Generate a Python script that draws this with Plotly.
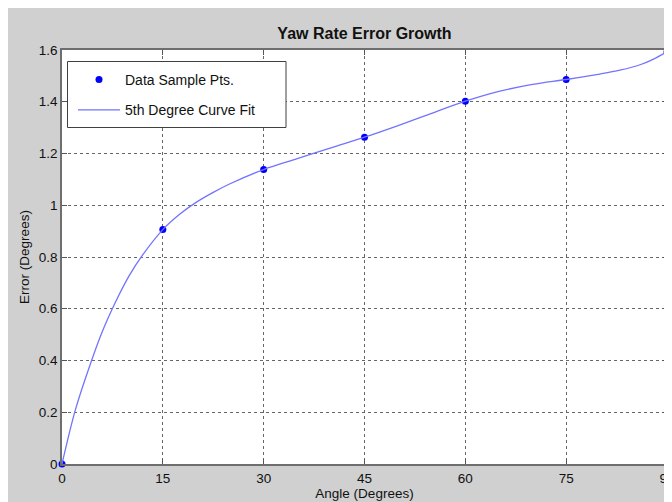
import plotly.graph_objects as go

# Data sample points
angles = [0, 15, 30, 45, 60, 75, 90]
errors = [0.0, 0.906, 1.138, 1.263, 1.402, 1.486, 1.593]

# 5th degree curve fit
fit_angles = [0, 2, 4, 6, 8, 10, 12, 15, 17.5, 20, 22.5, 25, 30, 35, 40, 45,
              50, 55, 60, 65, 70, 75, 80, 83, 86, 88, 90]
fit_errors = [0.0, 0.21, 0.37, 0.512, 0.628, 0.728, 0.808, 0.906, 0.965, 1.012, 1.05, 1.083,
              1.138, 1.18, 1.222, 1.263, 1.308, 1.355, 1.402, 1.44, 1.467, 1.486, 1.507,
              1.522, 1.543, 1.565, 1.593]

x_ticks = [0, 15, 30, 45, 60, 75, 90]
y_ticks = [0, 0.2, 0.4, 0.6, 0.8, 1.0, 1.2, 1.4, 1.6]
y_tick_labels = ["0", "0.2", "0.4", "0.6", "0.8", "1", "1.2", "1.4", "1.6"]

FONT = "Arial, Liberation Sans, Helvetica, sans-serif"
W, H = 672, 502
L, R, T, B = 54, 13, 42, 46
PW, PH = W - L - R, H - T - B

def px_x(p):
    return (p - L) / PW

def px_y(p):
    return (H - B - p) / PH

fig = go.Figure()
fig.add_trace(go.Scatter(
    x=angles, y=errors, mode="markers", name="Data Sample Pts.",
    marker=dict(color="#0000ff", size=7), legendgroup="a", cliponaxis=False))
fig.add_trace(go.Scatter(
    x=fit_angles, y=fit_errors, mode="lines", name="5th Degree Curve Fit",
    line=dict(color="#7373ff", width=1.3, shape="spline", smoothing=1.0), legendgroup="b"))

axis_common = dict(
    showline=True, linecolor="#6e6e6e", linewidth=1.5, mirror="ticks",
    ticks="inside", ticklen=5, tickcolor="#555555", tickwidth=1,
    showgrid=True, gridcolor="#666666", griddash="dot", gridwidth=1,
    zeroline=False, tickfont=dict(family=FONT, size=13.5, color="#111111"),
)

fig.update_xaxes(range=[0, 90], tickvals=x_ticks, ticktext=[str(v) for v in x_ticks],
                 ticklabelstandoff=1,
                 title=dict(text="Angle (Degrees)", font=dict(family=FONT, size=13.5, color="#111111"), standoff=4),
                 **axis_common)
fig.update_yaxes(range=[0, 1.6], tickvals=y_ticks, ticktext=y_tick_labels,
                 title=dict(text="Error (Degrees)", font=dict(family=FONT, size=13.5, color="#111111"), standoff=6),
                 **axis_common)

shapes = [
    # legend box
    dict(type="rect", xref="paper", yref="paper", x0=px_x(59.5), x1=px_x(278), y0=px_y(119.5), y1=px_y(53.5),
         fillcolor="white", line=dict(color="#404040", width=1), layer="above"),
]

fig.update_layout(
    width=W, height=H,
    margin=dict(l=L, r=R, t=T, b=B, autoexpand=False),
    paper_bgcolor="#d0d0d0", plot_bgcolor="white",
    title=dict(text="<b>Yaw Rate Error Growth</b>", x=px_x((L + W - R) / 2), xref="paper", xanchor="center",
               y=1 - 25 / H, yref="container", yanchor="middle",
               font=dict(family=FONT, size=16, color="#111111")),
    showlegend=True,
    legend=dict(x=px_x(65), y=px_y(56), xanchor="left", yanchor="top", itemwidth=42,
                bgcolor="rgba(0,0,0,0)", borderwidth=0, traceorder="grouped", tracegroupgap=9,
                font=dict(family=FONT, size=14, color="#111111")),
    shapes=shapes,
)

fig.write_html("out.html")
